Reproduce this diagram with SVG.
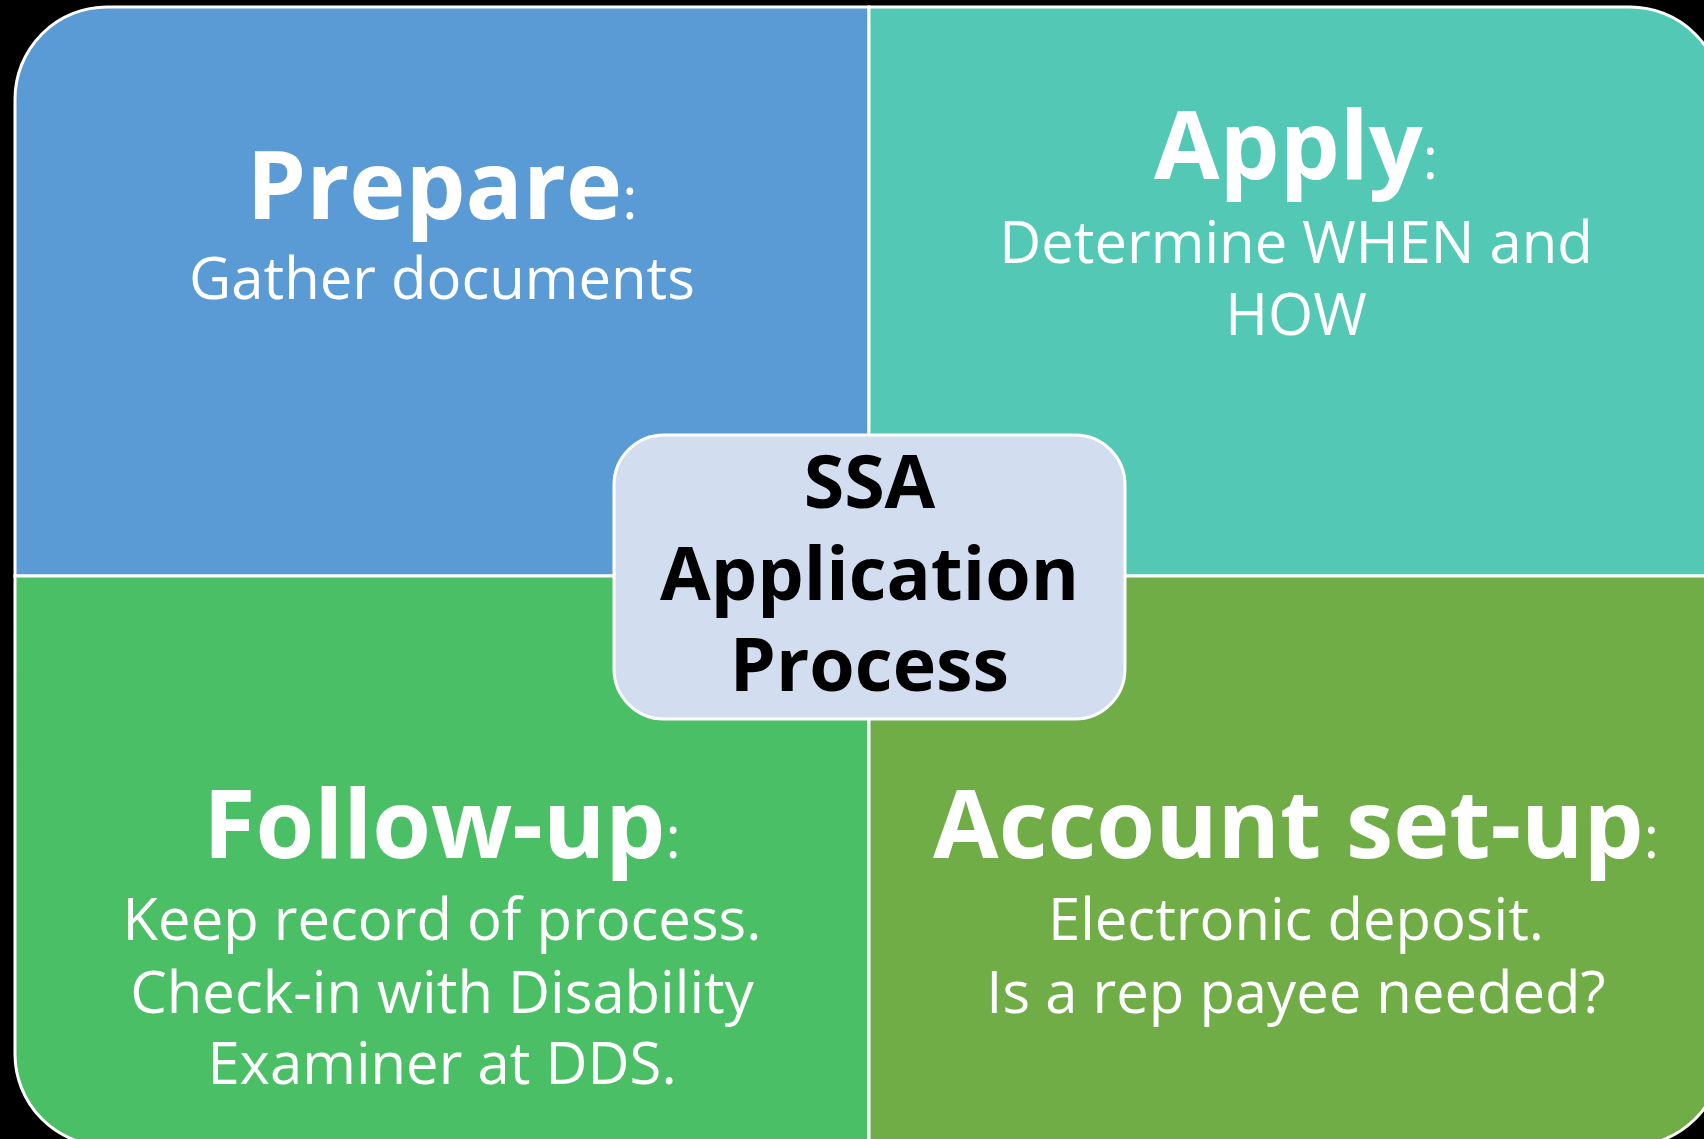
<svg xmlns="http://www.w3.org/2000/svg" width="1704" height="1139" viewBox="0 0 1704 1139">
<style>
.q{stroke:#FFFFFF;stroke-width:3}
.t{font-family:"Open Sans","Noto Sans","Liberation Sans",sans-serif;fill:#FFFFFF;text-anchor:middle}
.h{font-weight:700;font-size:95px}
.c{font-weight:400;font-size:58px}
.b{font-weight:400;font-size:58px}
.ct{font-family:"Open Sans","Noto Sans","Liberation Sans",sans-serif;fill:#000000;text-anchor:middle;font-weight:700;font-size:73.5px}
</style>
<rect x="0" y="0" width="1704" height="1139" fill="#000000"/>
<g id="prepare">
<path class="q" fill="#5B9BD5" d="M15,99 A92,92 0 0 1 107,7 L869,7 L869,576 L15,576 Z"/>
<text class="t" x="442" y="219"><tspan class="h">Prepare</tspan><tspan class="c">:</tspan></text>
<text class="t b" x="442" y="299">Gather documents</text>
</g>
<g id="apply">
<path class="q" fill="#53C9B5" d="M869,7 L1630,7 A92,92 0 0 1 1722,99 L1722,576 L869,576 Z"/>
<text class="t" x="1296" y="179"><tspan class="h">Apply</tspan><tspan class="c">:</tspan></text>
<text class="t b" x="1296" y="263">Determine WHEN and</text>
<text class="t b" x="1296" y="335">HOW</text>
</g>
<g id="followup">
<path class="q" fill="#4BBF65" d="M15,576 L869,576 L869,1146 L107,1146 A92,92 0 0 1 15,1054 Z"/>
<text class="t" x="442" y="858"><tspan class="h">Follow-up</tspan><tspan class="c">:</tspan></text>
<text class="t b" x="442" y="940">Keep record of process.</text>
<text class="t b" x="442" y="1013">Check-in with Disability</text>
<text class="t b" x="442" y="1084">Examiner at DDS.</text>
</g>
<g id="account">
<path class="q" fill="#70AD47" d="M869,576 L1722,576 L1722,1054 A92,92 0 0 1 1630,1146 L869,1146 Z"/>
<text class="t" x="1296" y="858"><tspan class="h">Account set-up</tspan><tspan class="c">:</tspan></text>
<text class="t b" x="1296" y="940">Electronic deposit.</text>
<text class="t b" x="1296" y="1013">Is a rep payee needed?</text>
</g>
<g id="connectors"></g>
<g id="center">
<rect x="614" y="435" width="511" height="284" rx="50" ry="50" fill="#D2DEEF" stroke="#FFFFFF" stroke-width="3"/>
<text class="ct" x="869.5" y="508">SSA</text>
<text class="ct" x="869.5" y="600">Application</text>
<text class="ct" x="869.5" y="691">Process</text>
</g>
</svg>
